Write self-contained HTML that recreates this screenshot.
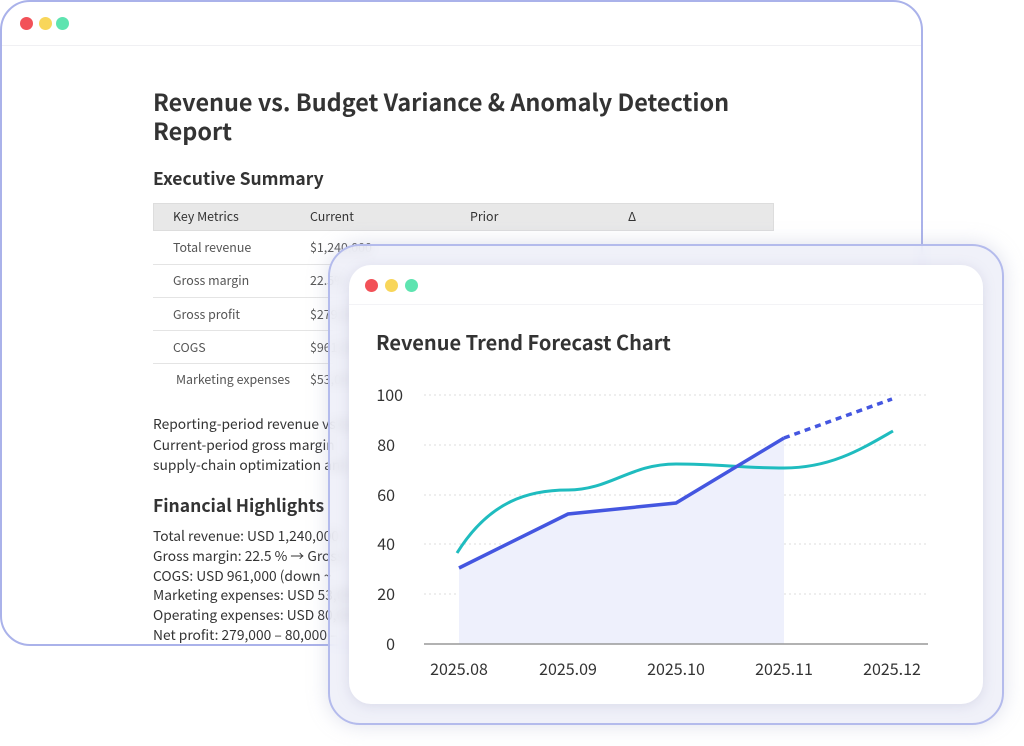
<!DOCTYPE html>
<html><head><meta charset="utf-8"><style>
*{margin:0;padding:0;box-sizing:border-box}
body{width:1024px;height:746px;background:#fff;position:relative;overflow:hidden;font-family:"Noto Sans CJK SC","Liberation Sans",sans-serif;color:#333}
.back{position:absolute;left:0;top:0;width:923px;height:646px;border:2.5px solid #aab2ea;border-radius:30px;background:#fff;overflow:hidden}
.bar{position:absolute;left:0;top:0;right:0;height:44px;border-bottom:1px solid #f0f0f3}
.dot{position:absolute;width:13px;height:13px;border-radius:50%}
.t{position:absolute;white-space:nowrap}
.front{position:absolute;left:328px;top:244px;width:676px;height:481px;border:2px solid #b4bbec;border-radius:32px;background:rgba(236,238,248,0.8);backdrop-filter:blur(6px);box-shadow:0 0 20px rgba(160,165,200,0.35)}
.inner{position:absolute;left:349px;top:265px;width:634px;height:439px;background:#fff;border-radius:22px;box-shadow:0 2px 12px rgba(150,150,190,0.25)}
.r{font-size:12.4px;color:#555}
</style></head><body>
<div class="back">
 <div class="bar"></div>
 <div class="dot" style="left:18px;top:15px;background:#f25158"></div>
 <div class="dot" style="left:37px;top:15px;background:#f8d65a"></div>
 <div class="dot" style="left:54px;top:15px;background:#5ee4b0"></div>
 <div class="t" style="left:151px;top:85px;font-size:23.4px;font-weight:700;line-height:29px;color:#333">Revenue vs. Budget Variance &amp; Anomaly Detection<br>Report</div>
 <div class="t" style="left:151px;top:164px;font-size:17.5px;font-weight:700;color:#333">Executive Summary</div>
 <div style="position:absolute;left:151px;top:201px;width:621px;height:28px;background:#e8e8e8;border:1px solid #ddd"></div>
 <div class="t r" style="left:171px;top:205px;color:#333">Key Metrics</div>
 <div class="t r" style="left:308px;top:205px;color:#333">Current</div>
 <div class="t r" style="left:468px;top:205px;color:#333">Prior</div>
 <div class="t r" style="left:626px;top:205px;color:#333">Δ</div>
 <div class="t r" style="left:171px;top:236px">Total revenue</div><div class="t r" style="left:308px;top:236px">$1,240,000</div>
 <div style="position:absolute;left:151px;top:262px;width:621px;border-top:1px solid #e4e4e4"></div>
 <div class="t r" style="left:171px;top:269px">Gross margin</div><div class="t r" style="left:308px;top:269px">22.5%</div>
 <div style="position:absolute;left:151px;top:295px;width:621px;border-top:1px solid #e4e4e4"></div>
 <div class="t r" style="left:171px;top:303px">Gross profit</div><div class="t r" style="left:308px;top:303px">$279,000</div>
 <div style="position:absolute;left:151px;top:328px;width:621px;border-top:1px solid #e4e4e4"></div>
 <div class="t r" style="left:171px;top:336px">COGS</div><div class="t r" style="left:308px;top:336px">$961,000</div>
 <div style="position:absolute;left:151px;top:361px;width:621px;border-top:1px solid #e4e4e4"></div>
 <div class="t r" style="left:174px;top:368px">Marketing expenses</div><div class="t r" style="left:308px;top:368px">$53,000</div>
 <div class="t" style="left:151px;top:411px;font-size:13.8px;line-height:20.5px;color:#333">Reporting-period revenue vs budget<br>Current-period gross margin<br>supply-chain optimization and</div>
 <div class="t" style="left:151px;top:491px;font-size:17.5px;font-weight:700;color:#333">Financial Highlights</div>
 <div class="t" style="left:151px;top:524px;font-size:13.8px;line-height:19.8px;color:#333">Total revenue: USD 1,240,000<br>Gross margin: 22.5 % → Gross<br>COGS: USD 961,000 (down ~<br>Marketing expenses: USD 53,000<br>Operating expenses: USD 80,000<br>Net profit: 279,000 – 80,000 –</div>
</div>
<div class="front"></div>
<div class="inner"></div>
<div class="dot" style="left:365px;top:279px;background:#f25158"></div>
<div class="dot" style="left:385px;top:279px;background:#f8d65a"></div>
<div class="dot" style="left:405px;top:279px;background:#5ee4b0"></div>
<div style="position:absolute;left:349px;top:304px;width:634px;border-top:1px solid #f3f3f6"></div>
<div class="t" style="left:376px;top:327px;font-size:20px;font-weight:700;color:#333">Revenue Trend Forecast Chart</div>
<svg style="position:absolute;left:0;top:0" width="1024" height="746">
 <g stroke="#ddd" stroke-dasharray="2,3" stroke-width="1">
  <line x1="424" y1="395" x2="928" y2="395"/><line x1="424" y1="445" x2="928" y2="445"/>
  <line x1="424" y1="495" x2="928" y2="495"/><line x1="424" y1="544" x2="928" y2="544"/>
  <line x1="424" y1="594" x2="928" y2="594"/>
 </g>
 <g font-family="Noto Sans CJK SC,Liberation Sans,sans-serif" font-size="16" fill="#333" text-anchor="end">
  <text x="403" y="401">100</text><text x="395" y="451">80</text><text x="395" y="501">60</text>
  <text x="395" y="550">40</text><text x="395" y="600">20</text><text x="395" y="650">0</text>
 </g>
 <g font-family="Noto Sans CJK SC,Liberation Sans,sans-serif" font-size="16" fill="#333" text-anchor="middle">
  <text x="459" y="675">2025.08</text><text x="568" y="675">2025.09</text><text x="676" y="675">2025.10</text>
  <text x="784" y="675">2025.11</text><text x="892" y="675">2025.12</text>
 </g>
 <path d="M459,568 L568,514 L676,503 L784,438 L784,644 L459,644 Z" fill="#eef0fc"/>
 <line x1="424" y1="644" x2="928" y2="644" stroke="#999" stroke-width="1.5"/>
 <path d="M457,553 C490,500 530,490 568,490 C610,490 630,464 676,464 C720,464 740,468 784,468 C830,468 860,450 893,431" fill="none" stroke="#1fbcbf" stroke-width="3"/>
 <path d="M459,568 L568,514 L676,503 L784,438" fill="none" stroke="#4456e0" stroke-width="3.5"/>
 <path d="M784,438 L892,399" fill="none" stroke="#4456e0" stroke-width="3.5" stroke-dasharray="6,5"/>
</svg>
</body></html>
